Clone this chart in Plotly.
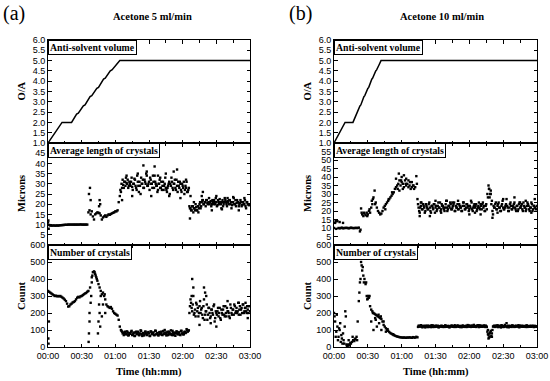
import plotly.graph_objects as go

# ---------------- DATA ----------------
minutes = list(range(0, 181))
time_tickvals = [0, 30, 60, 90, 120, 150, 180]
time_ticktext = ["00:00", "00:30", "01:00", "01:30", "02:00", "02:30", "03:00"]

# Anti-solvent O/A ratio (staircase ramp)
oa_a_t = [0, 12.5, 21, 25.5, 27, 31.5, 33, 37.5, 39, 43.5, 45, 49.5, 51, 55.5, 57, 61, 64, 180]
oa_a_v = [1.0, 2.0, 2.0, 2.4, 2.45, 2.8, 2.85, 3.25, 3.3, 3.65, 3.7, 4.1, 4.15, 4.5, 4.55, 4.8, 5.0, 5.0]
oa_b_t = [0, 9.8, 16.8, 19.5, 20.3, 23, 23.8, 26.5, 27.3, 30, 30.8, 33.5, 34.3, 37, 37.8, 40, 41.7, 180]
oa_b_v = [1.0, 2.0, 2.0, 2.4, 2.45, 2.8, 2.85, 3.25, 3.3, 3.65, 3.7, 4.1, 4.15, 4.5, 4.55, 4.8, 5.0, 5.0]

# Average crystal length (microns), 5 ml/min  (one reading per minute)
len_a = [11, 9.8, 9.6, 9.5, 9.5, 9.6, 9.5, 9.5, 9.6, 9.5, 9.6,
         9.7, 9.7, 9.8, 9.8, 9.9, 9.9, 9.9, 10, 10, 10,
         10, 10, 10, 10, 10, 10, 10, 10, 10.1, 10,
         10, 10, 10, 10, 10,
         16, 17, 15, 16.5, 14, 12.5, 15, 15.5, 16, 15.8, 15.5, 14.5, 12.5, 13.5,
         14, 14.5, 13.8, 14.5, 15, 14.8, 15.2, 15.5, 15.8, 16, 16.5, 16.5, 17,
         21, 24, 26, 28, 29.5, 31, 29, 30.5, 32, 29, 30, 31, 28.5, 30, 32.5, 29, 27,
         31, 26, 29, 33, 30, 28, 32, 30, 34, 29, 31, 33, 30, 28, 31, 34, 30, 29, 27,
         30, 28, 31, 29, 27, 30, 28, 26, 29, 31, 30, 33, 28, 30, 32, 27, 29, 31, 28,
         30, 26, 29, 31, 27, 28, 26, 27,
         19, 18, 17, 19, 18, 17, 18.5, 17, 19, 20, 18, 21, 22, 20, 21, 22, 20.5, 21,
         20, 21.5, 20, 21, 22, 20, 21, 19.5, 21, 22.5, 20, 21, 19, 21, 22, 20, 21.5,
         20, 22, 21, 19.5, 21, 20, 22, 20.5, 21, 19, 20.5, 21, 19.5, 21, 20, 19, 21,
         20, 19.5, 20]
# half-minute readings of the noisy stretches
len_a_half1 = [27, 30, 32, 28, 31, 33, 30, 28, 31, 29, 33, 27, 30, 32, 28, 34, 29, 31,
               25, 30, 32, 28, 31, 35, 29, 30, 27, 32, 30, 34, 28, 31, 29, 26, 30, 32,
               28, 27, 31, 29, 33, 27, 28, 30, 25, 29, 31, 27, 30, 28, 32, 26, 29, 31,
               27, 30, 28, 25, 29, 31, 26, 28]          # from 64.5 min
len_a_half2 = [18, 17, 19, 16, 18, 20, 17, 19, 18, 21, 19, 22, 20, 21, 19, 22, 20, 23,
               21, 19, 22, 20, 21, 23, 19, 22, 20, 21, 18, 22, 20, 23, 21, 19, 21, 22,
               20, 18, 21, 23, 20, 19, 22, 21, 20, 22, 19, 21, 20, 22, 18, 21, 20]  # from 126.5 min
len_a_extra_t = [0.3, 0.6, 36.5, 37.4, 38, 46, 46.5, 45.5, 85, 95, 115, 88, 105, 112, 75, 92,
                 118, 126.5, 127, 138, 134, 137, 150, 160, 170, 175, 146, 70, 80, 100, 108,
                 123, 66, 98, 130, 155, 165]
len_a_extra_v = [12, 8, 25, 28, 22, 22, 20, 19, 39, 38.5, 37, 36, 35, 36, 24, 24,
                 23, 13, 24, 26, 16, 24, 24, 23, 17, 23, 17, 34, 35, 33, 24,
                 32, 22, 34, 21, 17.5, 23.5]

# Number of crystals, 5 ml/min
count_a = [330, 325, 320, 315, 310, 305, 300, 302, 298, 300, 298, 300, 295, 290, 285,
           278, 270, 255, 238, 240, 250, 255, 262, 265, 270, 280, 290, 295, 292, 298,
           300, 305, 310, 315, 318, 325, 330, 200, 260, 410, 440, 445, 430, 410, 390,
           370, 350, 330, 310, 320, 300, 280, 250, 240, 235, 230, 235, 225, 210, 200,
           195, 190, 185, 160, 120, 100, 90, 85, 80, 90, 75, 85, 70, 80, 90, 70, 80,
           65, 85, 75, 90, 70, 80, 95, 65, 80, 75, 90, 70, 85, 80, 65, 90, 75, 85, 70,
           95, 80, 70, 85, 75, 90, 70, 80, 100, 75, 85, 70, 90, 80, 75, 95, 70, 85, 80,
           90, 75, 85, 70, 95, 80, 75, 90, 85, 100, 95, 200, 280, 230, 250, 190, 220,
           260, 210, 180, 240, 200, 230, 170, 280, 190, 210, 160, 230, 200, 180, 220,
           190, 250, 170, 200, 210, 180, 230, 160, 200, 220, 190, 240, 180, 210, 200,
           170, 230, 190, 220, 250, 200, 230, 210, 190, 240, 220, 200, 250, 210, 230,
           200, 220, 240, 210]
count_a_half1 = [95, 80, 70, 88, 75, 92, 68, 82, 78, 95, 72, 85, 65, 90, 78, 84, 70, 98,
                 75, 82, 68, 90, 80, 73, 88, 65, 92, 78, 84, 70, 96, 75, 82, 68, 88, 80,
                 72, 94, 77, 85, 68, 90, 79, 74, 98, 70, 84, 80, 66, 92, 76, 86, 72, 95,
                 80, 74, 88, 82, 105, 90, 98]          # from 65.5 min
count_a_half2 = [240, 260, 210, 300, 200, 180, 250, 230, 200, 270, 220, 190, 240, 160,
                 210, 250, 190, 230, 170, 220, 200, 240, 150, 210, 190, 230, 200, 170,
                 220, 190, 240, 180, 200, 230, 210, 180, 250, 200, 220, 190, 240, 210,
                 200, 260, 220, 190, 230, 250, 200, 230, 210, 240, 200]  # from 126.5 min
count_a_extra_t = [0.3, 0.5, 0.8, 36.2, 36.5, 37, 37.5, 38.5, 39, 39.5, 44.5, 45, 45.5, 46,
                   46.5, 47, 48, 49, 50.5, 51, 128.5, 128, 129.5, 139, 140, 141, 135, 145,
                   150, 160, 170, 176, 178, 41.5, 42.5, 43.5]
count_a_extra_v = [50, 20, 150, 30, 80, 150, 350, 300, 380, 420, 80, 150, 250, 200,
                   120, 300, 180, 250, 310, 200, 400, 300, 350, 350, 320, 300, 130, 140,
                   120, 270, 260, 260, 170, 440, 420, 400]

# Average crystal length (microns), 10 ml/min
len_b = [10, 13, 9.5, 14,
         10, 9.8, 10, 10.2, 9.8, 10, 10, 10.1, 10, 9.8, 10, 10.2, 10, 10, 9.9, 10.1,
         10, 10, 10.2,
         8, 21.5, 18, 17, 18.5, 17.5, 19, 18, 20, 19, 22, 24, 28, 32, 25, 22, 20, 19,
         18, 18.5, 20, 22, 23, 24, 25, 26, 27, 28, 29, 30, 31, 33, 34, 35, 36, 38, 35,
         37, 36, 34, 38, 35, 36, 34, 35, 33, 34, 35, 33, 34, 40.5, 27,
         22, 19, 23, 21, 24, 22, 20, 23, 21, 24, 22, 19, 23, 21, 24, 22, 20, 23, 22,
         25, 21, 23, 22, 20, 24, 22, 21, 23, 25, 21, 22, 24, 20, 23, 22, 21, 24, 22,
         20, 23, 25, 21, 22, 24, 23, 21, 22, 25, 20, 23, 22, 24, 21, 23, 22, 24, 21,
         25, 23, 20, 24, 30, 35, 28, 32, 26, 18, 22, 24, 21, 23, 25, 22, 20, 24, 22,
         21, 23, 27, 22, 20, 24, 23, 21, 22, 25, 21, 23, 20, 24, 22, 23, 21, 25, 22,
         20, 23, 24, 21, 22, 25, 20, 23, 22, 21, 23]
len_b_half = [24, 20, 22, 25, 21, 23, 19, 24, 22, 21, 25, 20, 23, 22, 24, 19, 23, 21, 25,
              22, 20, 24, 23, 21, 22, 26, 20, 23, 22, 24, 21, 23, 25, 20, 22, 24, 21, 23,
              22, 20, 25, 23, 21, 24, 22, 20, 23, 26, 21, 22, 24, 23, 20, 22, 25, 21, 23,
              24, 22, 20, 23, 21, 28, 33, 30, 24, 20, 23, 22, 25, 21, 24, 22, 20, 23, 26,
              21, 22, 24, 23, 20, 22, 25, 21, 23, 24, 22, 20, 23, 21, 25, 22, 24, 20, 23,
              22, 21, 25, 23, 20, 22, 24, 21, 23, 22]   # from 74.5 min
len_b_extra_t = [1.5, 5, 8, 23.5, 24.5, 33.5, 34.5, 36.5, 55, 57.5, 60, 62, 64, 58, 61,
                 73.5, 76, 77, 90, 100, 110, 120, 130, 137.5, 139, 140.5, 150, 160, 170,
                 178, 85, 66, 69, 95, 105, 125, 145, 165, 175, 26.5, 29.5, 31.5, 45.5,
                 48.5, 51.5, 56.5, 59.5, 63.5, 67.5, 70.5]
len_b_extra_v = [14, 13.5, 13, 9, 19, 26, 27, 24, 39, 42, 40, 41, 39, 32, 33,
                 36, 17, 25, 26, 26, 26, 18, 18, 33, 30, 16, 27, 28, 26,
                 27, 17, 38, 37, 19, 25, 19, 19, 25, 19, 19, 17, 21, 21,
                 27, 31, 33, 38, 36, 37, 35]

# Number of crystals, 10 ml/min
count_b = [200, 150, 90, 120, 60, 100, 30, 50, 80, 20, 210, 15, 12, 15, 10, 20, 30,
           40, 35, 50, 60, 150, 270, 380, 500, 450, 420, 400, 370, 300, 285, 290, 240,
           220, 210, 200, 195, 190, 185, 180, 175, 170, 165, 150, 130, 120, 110, 100,
           95, 88, 82, 78, 74, 70, 67, 64, 62, 60, 58, 57, 56, 55, 56, 55, 54, 56, 55,
           57, 55, 54, 58, 56, 55, 60, 57,
           125, 120, 128, 118, 122, 125, 115, 120, 126, 119, 123, 117, 121, 127, 118,
           122, 120, 125, 116, 121, 124, 119, 122, 118, 126, 120, 123, 117, 121, 125,
           119, 122, 128, 118, 121, 124, 120, 117, 123, 126, 119, 121, 125, 118, 122,
           127, 120, 124, 119, 130, 121, 118, 125, 122, 128, 119, 124, 121, 127, 118,
           122, 90, 70, 60, 95, 80, 120, 125, 118, 122, 128, 119, 124, 115, 126, 121,
           118, 123, 140, 120, 116, 124, 119, 127, 121, 118, 125, 120, 123, 117, 126,
           122, 119, 124, 121, 118, 127, 120, 123, 119, 125, 121, 118, 124, 120, 122]
count_b_half = [118, 124, 121, 127, 116, 122, 119, 125, 121, 117, 124, 120, 128, 118, 122,
                119, 126, 121, 117, 123, 120, 125, 118, 122, 127, 119, 121, 124, 116, 122,
                126, 120, 118, 123, 121, 127, 119, 124, 120, 117, 125, 122, 118, 121, 129,
                120, 123, 118, 126, 121, 119, 124, 122, 128, 117, 121, 125, 119, 123, 120,
                126, 118, 75, 55, 85, 65, 100, 123, 119, 126, 121, 117, 124, 120, 128, 118,
                122, 130, 121, 117, 125, 120, 123, 118, 126, 121, 119, 124, 122, 128, 117,
                121, 125, 119, 123, 120, 126, 118, 122, 124, 119, 121, 125, 118, 123, 120]  # from 74.5 min
count_b_extra_t = [0.5, 1.5, 2.5, 3.5, 5.5, 7.5, 10.5, 11.5, 13, 16.5, 20.5, 22.5, 23.5,
                   24.5, 25.5, 26.5, 29.5, 31.5, 33, 35, 37, 38, 40, 42, 44, 46, 137,
                   138, 136.5, 140, 4.5, 6.5, 8.5, 9.5, 12.5, 14.5, 18.5, 28.5, 30.5,
                   34.5, 36.5, 39.5, 41.5, 47.5, 52.5]
count_b_extra_v = [180, 60, 190, 40, 140, 20, 180, 5, 40, 60, 40, 320, 400,
                   480, 470, 380, 280, 300, 150, 100, 160, 120, 140, 100, 150, 90, 50,
                   80, 100, 60, 110, 70, 40, 120, 8, 25, 45, 380, 300, 200, 170,
                   190, 180, 105, 75]

# ---------------- FIGURE ----------------
W, H = 550, 381
def px_x(x): return x / W
def px_y(y): return 1 - y / H

col_x = [(48, 250), (334, 537)]
row_y = [(40, 143), (143, 245), (245, 347)]

fig = go.Figure()

sans = "Liberation Sans, Arial, sans-serif"
serif = "Liberation Serif, Times New Roman, serif"

marker = dict(symbol="square", size=2.4, color="black", line=dict(width=0))

def half_times(start, vals):
    return [start + k for k in range(len(vals))]

panels = [
    (0, 0, [(oa_a_t, oa_a_v, "lines")]),
    (0, 1, [(minutes, len_a, "markers"),
            (half_times(64.5, len_a_half1), len_a_half1, "markers"),
            (half_times(126.5, len_a_half2), len_a_half2, "markers"),
            (len_a_extra_t, len_a_extra_v, "markers")]),
    (0, 2, [(minutes, count_a, "markers"),
            (half_times(65.5, count_a_half1), count_a_half1, "markers"),
            (half_times(126.5, count_a_half2), count_a_half2, "markers"),
            (count_a_extra_t, count_a_extra_v, "markers")]),
    (1, 0, [(oa_b_t, oa_b_v, "lines")]),
    (1, 1, [(minutes, len_b, "markers"),
            (half_times(74.5, len_b_half), len_b_half, "markers"),
            (len_b_extra_t, len_b_extra_v, "markers")]),
    (1, 2, [(minutes, count_b, "markers"),
            (half_times(74.5, count_b_half), count_b_half, "markers"),
            (count_b_extra_t, count_b_extra_v, "markers")]),
]

yranges = {
    (0, 0): ([1, 6], [1.0, 1.5, 2.0, 2.5, 3.0, 3.5, 4.0, 4.5, 5.0, 5.5, 6.0], "%.1f"),
    (0, 1): ([0, 50], [5, 10, 15, 20, 25, 30, 35, 40, 45], "%d"),
    (0, 2): ([0, 600], [0, 100, 200, 300, 400, 500, 600], "%d"),
    (1, 0): ([1, 6], [1.0, 1.5, 2.0, 2.5, 3.0, 3.5, 4.0, 4.5, 5.0, 5.5, 6.0], "%.1f"),
    (1, 1): ([0, 60], [5, 10, 15, 20, 25, 30, 35, 40, 45, 50, 55], "%d"),
    (1, 2): ([0, 600], [0, 100, 200, 300, 400, 500, 600], "%d"),
}

layout_axes = {}
for i, (c, r, series) in enumerate(panels):
    n = i + 1
    xa = "x" if n == 1 else f"x{n}"
    ya = "y" if n == 1 else f"y{n}"
    for (tx, vy, mode) in series:
        if mode == "lines":
            fig.add_trace(go.Scatter(x=tx, y=vy, mode="lines",
                                     line=dict(color="black", width=1.5),
                                     xaxis=xa, yaxis=ya, showlegend=False,
                                     hoverinfo="skip"))
        else:
            fig.add_trace(go.Scatter(x=tx, y=vy, mode="markers", marker=marker,
                                     xaxis=xa, yaxis=ya, showlegend=False,
                                     hoverinfo="skip"))
    x0, x1 = col_x[c]
    y0, y1 = row_y[r]
    rng, tv, fmt = yranges[(c, r)]
    xkey = "xaxis" if n == 1 else f"xaxis{n}"
    ykey = "yaxis" if n == 1 else f"yaxis{n}"
    layout_axes[xkey] = dict(
        domain=[px_x(x0), px_x(x1)], anchor=ya, range=[0, 180], automargin=False,
        tickvals=time_tickvals, ticktext=time_ticktext,
        showticklabels=(r == 2), ticks="inside", ticklen=3.5, tickwidth=1,
        tickcolor="black", showline=True, linecolor="black", linewidth=1,
        mirror="ticks", showgrid=False, zeroline=False,
        minor=dict(tickvals=[15, 45, 75, 105, 135, 165], ticks="inside",
                   ticklen=2.5, tickcolor="black"),
        tickfont=dict(family=sans, size=9, color="black"),
    )
    layout_axes[ykey] = dict(
        domain=[px_y(y1), px_y(y0)], anchor=xa, range=rng, automargin=False,
        tickvals=tv, ticktext=[fmt % v for v in tv],
        ticks="inside", ticklen=3.5, tickwidth=1, tickcolor="black",
        showline=True, linecolor="black", linewidth=1, mirror="ticks",
        showgrid=False, zeroline=False,
        tickfont=dict(family=sans, size=9, color="black"),
    )

fig.update_layout(**layout_axes)

annotations = []
box_labels = ["Anti-solvent volume", "Average length of crystals", "Number of crystals"]
ytitles = ["O/A", "Microns", "Count"]
for c in range(2):
    x0, x1 = col_x[c]
    for r in range(3):
        y0, y1 = row_y[r]
        annotations.append(dict(
            text=f"<b>{box_labels[r]}</b>", xref="paper", yref="paper",
            x=px_x(x0), y=px_y(y0), xanchor="left", yanchor="top", showarrow=False,
            font=dict(family=serif, size=9.8, color="black"),
            bgcolor="white", bordercolor="black", borderwidth=1, borderpad=1,
        ))
        annotations.append(dict(
            text=f"<b>{ytitles[r]}</b>", xref="paper", yref="paper",
            x=px_x(x0 - 27), y=px_y((y0 + y1) / 2), xanchor="center", yanchor="middle",
            textangle=-90, showarrow=False,
            font=dict(family=serif, size=10.5, color="black"),
        ))
    annotations.append(dict(
        text="<b>Time (hh:mm)</b>", xref="paper", yref="paper",
        x=px_x((x0 + x1) / 2), y=px_y(372), xanchor="center", yanchor="middle",
        showarrow=False, font=dict(family=serif, size=10.5, color="black"),
    ))

annotations += [
    dict(text="<b>Acetone 5 ml/min</b>", xref="paper", yref="paper", x=px_x(152), y=px_y(17),
         xanchor="center", yanchor="middle", showarrow=False,
         font=dict(family=serif, size=10.5, color="black")),
    dict(text="<b>Acetone 10 ml/min</b>", xref="paper", yref="paper", x=px_x(442), y=px_y(17),
         xanchor="center", yanchor="middle", showarrow=False,
         font=dict(family=serif, size=10.5, color="black")),
    dict(text="(a)", xref="paper", yref="paper", x=px_x(14), y=px_y(14),
         xanchor="center", yanchor="middle", showarrow=False,
         font=dict(family=serif, size=20, color="black")),
    dict(text="(b)", xref="paper", yref="paper", x=px_x(300), y=px_y(14),
         xanchor="center", yanchor="middle", showarrow=False,
         font=dict(family=serif, size=20, color="black")),
]

fig.update_layout(
    width=W, height=H, margin=dict(l=0, r=0, t=0, b=0),
    paper_bgcolor="white", plot_bgcolor="white",
    annotations=annotations, showlegend=False, hovermode=False,
)

# remove the page's default body margin so the figure sits at the window origin
fig.write_html("out.html", config={"displayModeBar": False},
               post_script="document.body.style.margin='0px';document.body.style.overflow='hidden';")
